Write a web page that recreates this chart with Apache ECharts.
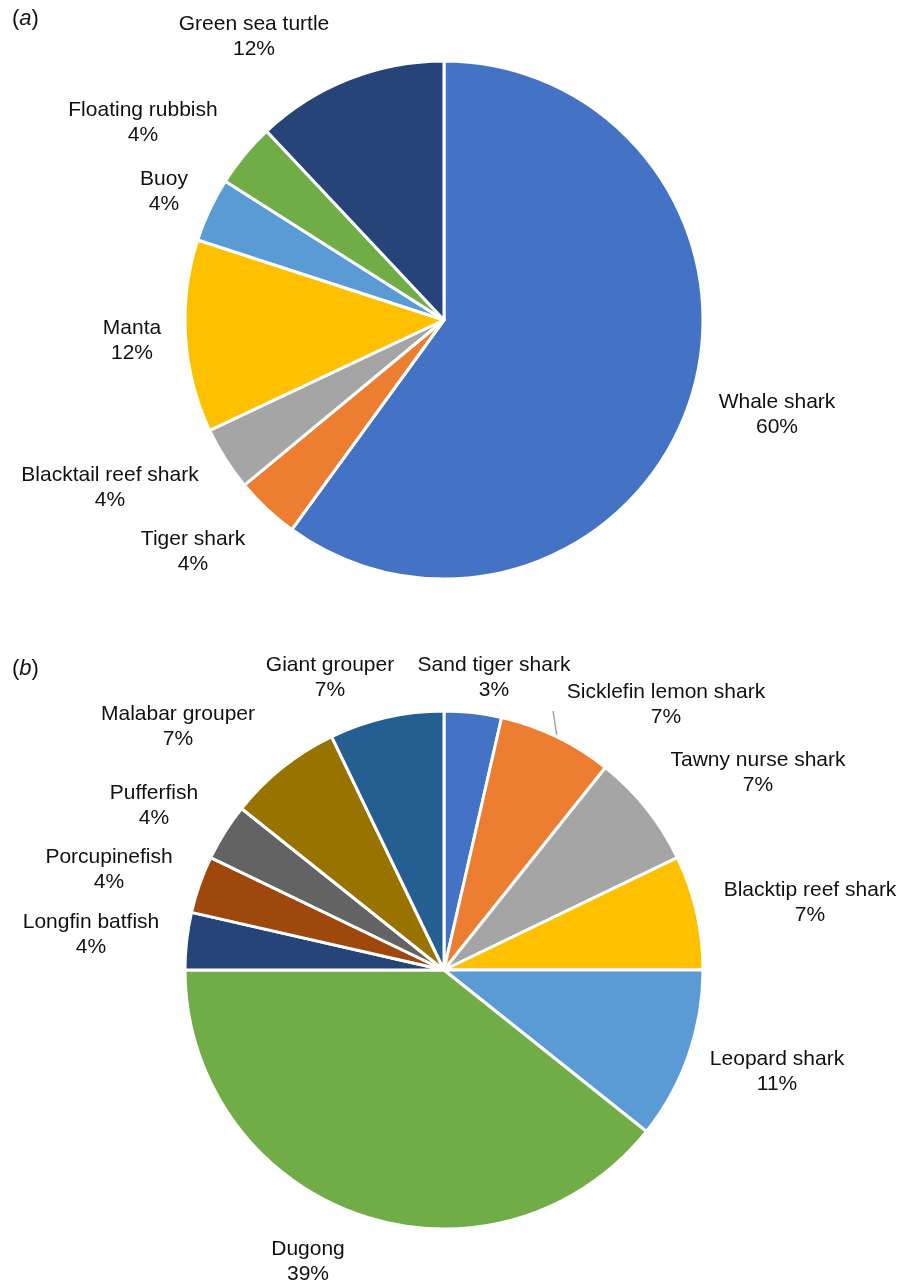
<!DOCTYPE html>
<html><head><meta charset="utf-8">
<script src="https://cdn.jsdelivr.net/npm/echarts/dist/echarts.min.js"></script>
<style>html,body{margin:0;padding:0;background:#fff}#c{width:901px;height:1285px}</style>
</head><body><div id="c"></div>
<script>
// ---- data ----
const namesA = ['Whale shark','Tiger shark','Blacktail reef shark','Manta','Buoy','Floating rubbish','Green sea turtle'];
const valuesA = [15,1,1,3,1,1,3];
const pctA = ['60%','4%','4%','12%','4%','4%','12%'];
const colorsA = ['#4472C4','#ED7D31','#A5A5A5','#FFC000','#5B9BD5','#70AD47','#264478'];

const namesB = ['Sand tiger shark','Sicklefin lemon shark','Tawny nurse shark','Blacktip reef shark','Leopard shark','Dugong','Longfin batfish','Porcupinefish','Pufferfish','Malabar grouper','Giant grouper'];
const valuesB = [1,2,2,2,3,11,1,1,1,2,2];
const pctB = ['3%','7%','7%','7%','11%','39%','4%','4%','4%','7%','7%'];
const colorsB = ['#4472C4','#ED7D31','#A5A5A5','#FFC000','#5B9BD5','#70AD47','#264478','#9E480E','#636363','#997300','#255E91'];

// ---- label placement (text anchors relative to each pie centre, px) ----
const labelOffA = [[333,95],[-251,232],[-334,168],[-312,21],[-280,-128],[-301,-197],[-190,-283]];
const labelOffB = [[50,-292],[222,-265],[314,-197],[366,-67],[333,102],[-136,292],[-353,-35],[-335,-100],[-290,-164],[-266,-243],[-114,-292]];

const FONT = '"Liberation Sans", Arial, Helvetica, sans-serif';
const TXT = '#111111';
const R = 259;
const centerA = [444, 320];
const centerB = [444, 970];

function midAngle(values, i) {
  const tot = values.reduce((a, b) => a + b, 0);
  let s = 0;
  for (let k = 0; k < i; k++) s += values[k];
  return ((s + values[i] / 2) / tot) * 2 * Math.PI;
}
function polar(c, r, a) { return [c[0] + r * Math.sin(a), c[1] - r * Math.cos(a)]; }

function makeData(names, values, pcts, colors, leaderIdx) {
  return names.map((n, i) => {
    const d = { name: n, value: values[i], itemStyle: { color: colors[i] } };
    if (i === leaderIdx) {
      d.labelLine = { show: true, length: 20, length2: 0, lineStyle: { color: '#A5A5A5', width: 1.5 } };
    }
    return d;
  });
}

function pieSeries(names, values, pcts, colors, center, offs, leaderIdx) {
  return {
    type: 'pie',
    center: center,
    radius: R,
    startAngle: 90,
    clockwise: true,
    avoidLabelOverlap: false,
    silent: true,
    animation: false,
    itemStyle: { borderColor: '#ffffff', borderWidth: 3 },
    label: {
      show: true,
      position: 'outside',
      color: TXT,
      fontFamily: FONT,
      fontSize: 21,
      lineHeight: 25,
      formatter: p => p.name + '\n' + pcts[p.dataIndex]
    },
    labelLine: { show: false },
    labelLayout: function (params) {
      const i = params.dataIndex;
      const o = offs[i];
      const res = { x: center[0] + o[0], y: center[1] + o[1], align: 'center', verticalAlign: 'middle' };
      if (i === leaderIdx) {
        const a = midAngle(values, i);
        res.labelLinePoints = [polar(center, R + 1, a), polar(center, R + 22, a - 0.05)];
      }
      return res;
    },
    data: makeData(names, values, pcts, colors, leaderIdx)
  };
}

const rich = {
  p: { fontFamily: FONT, fontSize: 22, color: TXT, fontWeight: 'normal' },
  i: { fontFamily: FONT, fontSize: 22, color: TXT, fontWeight: 'normal', fontStyle: 'italic' }
};

const chart = echarts.init(document.getElementById('c'), null, { renderer: 'canvas' });
chart.setOption({
  backgroundColor: '#ffffff',
  animation: false,
  title: [
    { text: '{p|(}{i|a}{p|)}', left: 7, top: 3, textStyle: { fontWeight: 'normal', rich: rich } },
    { text: '{p|(}{i|b}{p|)}', left: 7, top: 653, textStyle: { fontWeight: 'normal', rich: rich } }
  ],
  series: [
    pieSeries(namesA, valuesA, pctA, colorsA, centerA, labelOffA, -1),
    pieSeries(namesB, valuesB, pctB, colorsB, centerB, labelOffB, 1)
  ]
});
</script>
</body></html>
